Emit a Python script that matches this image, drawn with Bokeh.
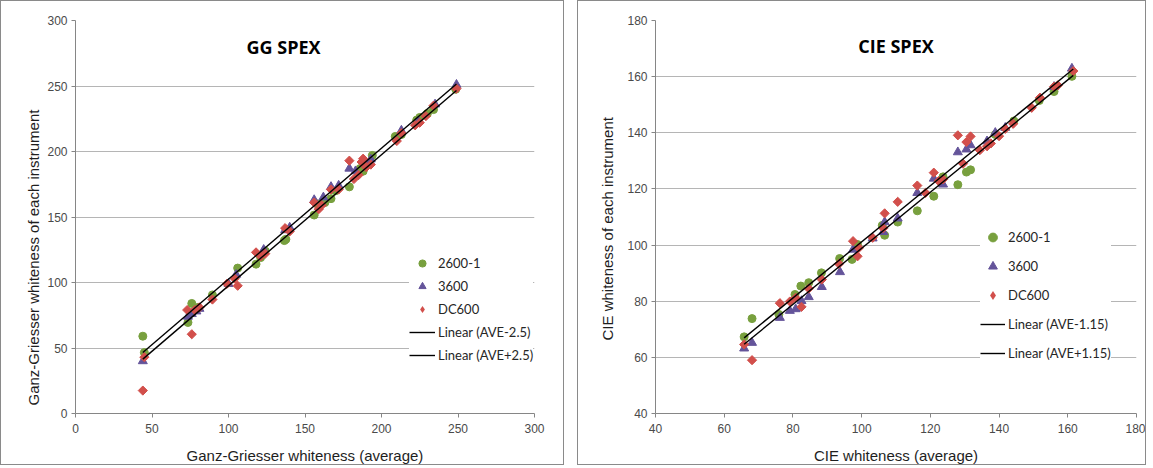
import math
from bokeh.plotting import figure
from bokeh.layouts import row
from bokeh.models import Legend, Label, FixedTicker, Range1d, Title, ColumnDataSource
from bokeh.embed import file_html
from bokeh.resources import INLINE

# ---------------- GG SPEX data ----------------
gg_2600_x = [44, 45, 73.5, 76, 80, 89.5, 106, 118, 121, 124, 136.5, 137.5, 156, 158, 163, 167, 170, 179,
             186, 188, 194, 209, 213, 223, 225, 230, 234, 248.5]
gg_2600_y = [59, 46.5, 69.5, 84, 81, 90.5, 111, 114, 119, 124, 132, 133, 151.5, 160, 161, 164, 170, 173,
             187, 185, 197, 211.5, 213, 224, 226, 229, 232, 247.5]
gg_3600_x = [44, 73.5, 76, 79, 81, 100, 105, 123, 137, 140, 156, 162, 167, 172, 179, 183, 190, 193,
             213, 224, 235, 249]
gg_3600_y = [40, 74, 76, 78, 80, 99, 106, 125, 140, 142, 163, 165, 173, 174, 187, 185, 191, 194,
             216, 223, 236, 251]
gg_dc600_x = [44, 45, 73, 76, 78, 81, 89.5, 99, 104, 106, 118, 121, 124, 137, 140, 156, 159, 161, 167,
              172, 179, 182, 185, 187, 188, 190, 193, 210, 213, 222, 225, 229, 234, 249]
gg_dc600_y = [17.5, 43, 79, 60.5, 79, 81, 87, 99, 103, 97.5, 123, 120, 122, 141.5, 139, 161, 156, 159, 171,
              171, 193, 179, 182, 192, 194.5, 188, 190, 208, 214, 220, 222, 227, 235, 248]
gg_offset = 2.5
gg_ticks = [0, 50, 100, 150, 200, 250, 300]

# ---------------- CIE SPEX data ----------------
cie_2600_x = [65.8, 68.1, 75.9, 80.6, 82.3, 84.6, 88.3, 93.6, 97.2, 98.8, 106, 106.7, 110.5, 116.2, 121,
              123.7, 128, 130.5, 131.7, 138.9, 144.3, 151.7, 156, 161.2]
cie_2600_y = [67.3, 73.8, 75.3, 82.4, 85.4, 86.6, 90.1, 95.2, 94.9, 100.2, 107, 103.5, 108.2, 112.2, 117.4,
              124.3, 121.5, 126, 126.8, 139.4, 144.2, 151.5, 154.7, 160.1]
cie_3600_x = [65.8, 68.1, 76.2, 79.1, 80.8, 82.5, 84.6, 88.4, 93.7, 97.5, 103.2, 106.3, 106.7, 110.5, 116.2,
              121, 123.7, 128, 130.5, 131.7, 136.5, 138.9, 141.8, 156, 161.2]
cie_3600_y = [63.2, 65.2, 74.1, 76.6, 77.2, 80.1, 81.5, 85.1, 90.4, 98.4, 102.4, 104.7, 108.2, 109.5, 118.6,
              123.7, 121.6, 133.1, 134.1, 135.6, 137, 140, 141.8, 156.4, 162.9]
cie_dc600_x = [65.8, 68.1, 76.2, 79.1, 80.8, 82.5, 84.6, 88.4, 93.4, 97.5, 98.8, 99.2, 103.2, 106.3, 106.7,
               110.5, 116.2, 118.6, 121, 122.4, 123.7, 128, 129.5, 130.5, 131.7, 134.4, 136.5, 137.6, 140,
               141.8, 144.1, 149.5, 151.9, 156, 157.1, 161.6]
cie_dc600_y = [64.6, 59, 79.3, 79.9, 81.2, 78, 84.5, 87.7, 93.3, 101.4, 96, 99, 102.6, 106, 111.3,
               115.4, 121.2, 118.6, 125.8, 122.8, 123.4, 139.1, 129, 136.7, 138.7, 133.8, 135.2, 136.2, 138.8,
               141.4, 143.2, 148.9, 152.5, 156.4, 156.9, 162]
cie_offset = 1.15
cie_ticks = [40, 60, 80, 100, 120, 140, 160, 180]

GREEN = "#78A03E"
PURPLE = "#64549A"
RED = "#D24F4B"


def make_chart(title, title_pos, xlab, ylab, ylab_offset, ylab_standoff, ticks, series, offset, off_label,
               mb_left, mb_right, frame_w, legend_loc, legend_rows):
    lo, hi = ticks[0], ticks[-1]
    p = figure(frame_width=frame_w, frame_height=391,
               x_range=Range1d(lo, hi), y_range=Range1d(lo, hi),
               output_backend="svg", toolbar_location=None,
               min_border_left=mb_left, min_border_right=mb_right,
               min_border_top=19, min_border_bottom=49,
               background_fill_color="white", border_fill_color="white",
               styles={"border": "1px solid #8a8a8a"})
    p.outline_line_color = None
    p.xgrid.visible = False
    p.ygrid.grid_line_color = "#b5b5b5"
    p.ygrid.grid_line_width = 1
    p.ygrid.ticker = FixedTicker(ticks=ticks)
    for ax in (p.xaxis[0], p.yaxis[0]):
        ax.ticker = FixedTicker(ticks=ticks)
        ax.axis_line_color = "#868686"
        ax.major_tick_line_color = "#868686"
        ax.major_tick_out = 4
        ax.major_tick_in = 0
        ax.minor_tick_line_color = None
        ax.major_label_text_font = "Liberation Sans"
        ax.major_label_text_font_size = "12px"
        ax.major_label_text_color = "#4a4a4a"
    p.yaxis.major_label_standoff = 4
    p.xaxis.major_label_standoff = 6
    p.xaxis.axis_label = xlab
    p.xaxis.axis_label_text_font = "Liberation Sans"
    p.xaxis.axis_label_text_font_size = "15px"
    p.xaxis.axis_label_text_font_style = "normal"
    p.xaxis.axis_label_text_color = "#1e1e1e"
    p.xaxis.axis_label_standoff = 11

    ytitle = Title(text=ylab, align="left", offset=ylab_offset, standoff=ylab_standoff,
                   text_font="Liberation Sans", text_font_size="15px", text_font_style="normal",
                   text_color="#1e1e1e")
    p.add_layout(ytitle, "left")

    (x1, y1), (x2, y2), (x3, y3) = series
    r1 = p.scatter(x1, y1, marker="circle", size=8, fill_color=GREEN, line_color=GREEN)
    r2 = p.scatter(x2, y2, marker="triangle", size=9, fill_color=PURPLE, line_color=PURPLE)
    src3 = ColumnDataSource(data=dict(x=x3, y=y3))
    p.scatter("x", "y", source=src3, marker="square", angle=math.pi / 4, size=6.5,
              fill_color=RED, line_color=RED)
    # legend sample for DC600: zero-size markers draw nothing inside the plot
    r3 = p.scatter("x", "y", source=src3, marker="diamond", size=0,
                   fill_color=RED, line_color=None)
    allx = x1 + x2 + x3
    xs = [min(allx), max(allx)]
    r4 = p.line(xs, [v - offset for v in xs], line_color="black", line_width=1.4)
    r5 = p.line(xs, [v + offset for v in xs], line_color="black", line_width=1.4)
    labels = ["2600-1", "3600", "DC600", f"Linear (AVE-{off_label})", f"Linear (AVE+{off_label})"]
    items = [(lab, [r]) for lab, r in zip(labels, [r1, r2, r3, r4, r5])]
    lh, sp, gw = legend_rows
    leg = Legend(items=items, location=legend_loc, background_fill_color="white",
                 background_fill_alpha=1.0, border_line_color=None,
                 label_text_font="Lato", label_text_font_size="13px", label_text_color="#262626",
                 label_height=lh, glyph_height=lh, spacing=sp, glyph_width=gw,
                 label_standoff=3, padding=4, margin=0)
    p.add_layout(leg, "center")

    p.add_layout(Label(x=title_pos[0], y=title_pos[1], text=title, text_align="center",
                       text_baseline="middle", text_font="Open Sans", text_font_style="bold",
                       text_font_size="18px", text_color="black"))
    return p


p1 = make_chart("GG SPEX", (136, 280), "Ganz-Griesser whiteness (average)",
                "Ganz-Griesser whiteness of each instrument", 8, 6, gg_ticks,
                [(gg_2600_x, gg_2600_y), (gg_3600_x, gg_3600_y), (gg_dc600_x, gg_dc600_y)],
                gg_offset, "2.5", 74, 31, 457, (334, 49), (18, 5, 26))

p2 = make_chart("CIE SPEX", (110, 171), "CIE whiteness (average)",
                "CIE  whiteness of each instrument", 73, 18, cie_ticks,
                [(cie_2600_x, cie_2600_y), (cie_3600_x, cie_3600_y), (cie_dc600_x, cie_dc600_y)],
                cie_offset, "1.15", 77, 11, 479, (325, 49), (22, 7, 25))

layout = row(p1, p2, spacing=13)
open("out.html", "w").write(file_html(layout, INLINE))
